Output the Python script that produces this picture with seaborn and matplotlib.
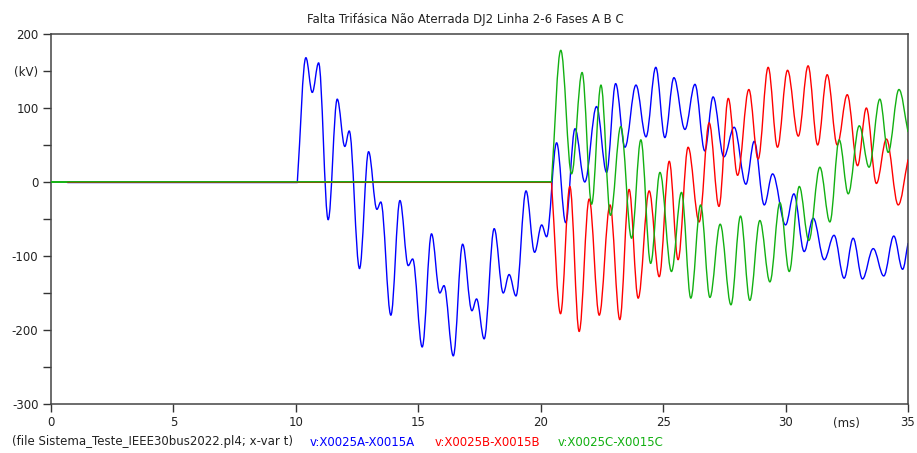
"""
ATP transient plot: three-phase ungrounded fault, DJ2 line 2-6, phases A B C.
"""
import matplotlib
matplotlib.use("Agg")
import matplotlib.pyplot as plt
from matplotlib.path import Path
from matplotlib.patches import PathPatch
import seaborn as sns
import pandas as pd

# time (ms) / voltage (kV): fault onset, peaks, troughs, end
t_a = [0.67, 10.06, 10.41, 10.67, 10.93, 11.32, 11.69, 12.0, 12.18, 12.6, 12.97,
       13.31, 13.47, 13.88, 14.25, 14.59, 14.77, 15.16, 15.54, 15.88, 16.05, 16.43,
       16.81, 17.19, 17.38, 17.69, 18.1, 18.47, 18.71, 18.99, 19.4, 19.75, 20.04,
       20.24, 20.65, 21.02, 21.4, 21.8, 22.28, 22.69, 23.06, 23.44, 23.89, 24.3,
       24.7, 25.07, 25.44, 25.89, 26.3, 26.7, 27.04, 27.48, 27.9, 28.38, 28.72,
       29.13, 29.47, 30.0, 30.34, 30.76, 31.13, 31.58, 31.98, 32.39, 32.76, 33.14,
       33.58, 34.01, 34.42, 34.78, 35.0]
v_a = [0, 0, 168, 121, 161, -51, 112, 48, 69, -117, 41,
       -37, -27, -180, -25, -113, -104, -223, -70, -150, -140, -235,
       -84, -174, -158, -212, -63, -150, -125, -154, -12, -95, -58,
       -74, 53, -55, 72, 0, 102, 13, 133, 47, 131, 61,
       155, 60, 141, 71, 132, 42, 115, 34, 74, -3, 55,
       -31, 11, -58, -16, -94, -49, -105, -72, -130, -76, -131,
       -90, -127, -73, -118, -83]

t_b = [0.67, 20.44, 20.81, 21.19, 21.57, 21.98, 22.39, 22.83, 23.23, 23.61,
       23.98, 24.43, 24.84, 25.25, 25.61, 26.02, 26.47, 26.88, 27.28, 27.66,
       28.04, 28.5, 28.88, 29.29, 29.67, 30.08, 30.52, 30.92, 31.31, 31.7,
       32.11, 32.52, 32.94, 33.3, 33.71, 34.12, 34.6, 35.0]
v_b = [0, 0, -178, -6, -202, -23, -180, -31, -186, -10,
       -157, -12, -128, 28, -105, 47, -54, 80, -33, 113,
       9, 125, 31, 155, 47, 151, 62, 157, 50, 145,
       50, 118, 22, 100, -2, 58, -31, 30]

t_c = [0.0, 20.44, 20.82, 21.26, 21.69, 22.08, 22.46, 22.85, 23.27, 23.71,
       24.09, 24.49, 24.87, 25.34, 25.75, 26.13, 26.53, 26.91, 27.33, 27.77,
       28.16, 28.54, 28.95, 29.36, 29.77, 30.15, 30.56, 30.95, 31.4, 31.81,
       32.19, 32.56, 33.01, 33.41, 33.85, 34.19, 34.63, 35.0]
v_c = [0, 0, 178, 11, 148, -30, 131, -45, 75, -76,
       57, -110, 13, -121, -14, -157, -31, -156, -57, -166,
       -46, -160, -52, -135, -28, -121, -6, -79, 20, -54,
       57, -16, 76, 20, 112, 40, 125, 68]

x_ticks = [0, 5, 10, 15, 20, 25, 30, 35]
y_ticks = [-300, -250, -200, -150, -100, -50, 0, 50, 100, 150, 200]
y_labels = ["-300", "", "-200", "", "-100", "", "0", "", "100", "(kV)", "200"]

title = "Falta Trifásica Não Aterrada DJ2 Linha 2-6 Fases A B C"
file_note = "(file Sistema_Teste_IEEE30bus2022.pl4; x-var t)"
names = ["v:X0025A-X0015A", "v:X0025B-X0015B", "v:X0025C-X0015C"]
colors = ["#0000ff", "#ff0000", "#12b012"]

FS = 8.5


def side_slopes(t, v, i):
    """Incoming / outgoing slope at point i (zero at peaks and troughs)."""
    n = len(t)
    if i == 0:
        return 0.0, (v[1] - v[0]) / (t[1] - t[0])
    if i == n - 1:
        s = (v[i] - v[i - 1]) / (t[i] - t[i - 1])
        return s, s
    d1 = v[i] - v[i - 1]
    d2 = v[i + 1] - v[i]
    if d1 * d2 < 0:
        return 0.0, 0.0
    if d1 == 0:
        return 0.0, d2 / (t[i + 1] - t[i])
    if d2 == 0:
        return d1 / (t[i] - t[i - 1]), 0.0
    s = (v[i + 1] - v[i - 1]) / (t[i + 1] - t[i - 1])
    return s, s


def wave_path(t, v, k=0.36):
    """Smooth cubic path through the read extrema (drawn in data coords)."""
    slopes = [side_slopes(t, v, i) for i in range(len(t))]
    verts = [(t[0], v[0])]
    codes = [Path.MOVETO]
    for i in range(len(t) - 1):
        dt = t[i + 1] - t[i]
        s_out = slopes[i][1]
        s_in = slopes[i + 1][0]
        verts += [(t[i] + k * dt, v[i] + k * dt * s_out),
                  (t[i + 1] - k * dt, v[i + 1] - k * dt * s_in),
                  (t[i + 1], v[i + 1])]
        codes += [Path.CURVE4] * 3
    return Path(verts, codes)


sns.set_theme(style="ticks")
plt.rcParams["font.family"] = ["DejaVu Sans"]
plt.rcParams["font.size"] = FS

fig = plt.figure(figsize=(9.17, 4.53), dpi=100)
ax = fig.add_axes([51 / 917, 49 / 453, 857 / 917, 370 / 453])

# pre-fault zero lines
flat = pd.DataFrame({
    "t": [t_c[0], t_c[1], t_a[0], t_a[1], t_b[0], t_b[1]],
    "v": [v_c[0], v_c[1], v_a[0], v_a[1], v_b[0], v_b[1]],
    "phase": ["C", "C", "A", "A", "B", "B"],
})
sns.lineplot(data=flat[flat.phase == "A"], x="t", y="v", color=colors[0],
             lw=1.0, ax=ax, zorder=2)
sns.lineplot(data=flat[flat.phase == "C"], x="t", y="v", color=colors[2],
             lw=1.4, ax=ax, zorder=3)
sns.lineplot(data=flat[flat.phase == "B"], x="t", y="v", color="#b03000",
             lw=0.8, alpha=0.6, ax=ax, zorder=4)

for (t, v), c, z in zip([(t_a[1:], v_a[1:]), (t_b[1:], v_b[1:]), (t_c[1:], v_c[1:])],
                        colors, [2, 3, 4]):
    ax.add_patch(PathPatch(wave_path(t, v), fill=False, edgecolor=c, lw=1.0,
                           zorder=z, capstyle="round", joinstyle="round"))

ax.set_xlim(0, 35)
ax.set_ylim(-300, 200)
ax.set_xticks(x_ticks)
ax.set_xticklabels([str(x) for x in x_ticks])
ax.set_yticks(y_ticks)
ax.set_yticklabels(y_labels)
ax.set_xlabel("")
ax.set_ylabel("")
ax.tick_params(direction="out", length=6, width=1.0, colors="#333333",
               labelcolor="#222222", pad=3, labelsize=FS)
ax.grid(False)
for side in ["left", "bottom", "top", "right"]:
    ax.spines[side].set_visible(True)
    ax.spines[side].set_color("#444444")
    ax.spines[side].set_linewidth(1.1)

ax.annotate("(ms)", xy=(32.5, 0), xycoords=("data", "axes fraction"),
            xytext=(0, -9), textcoords="offset points", ha="center", va="top",
            fontsize=FS, color="#222222")

fig.text(465 / 917, 1 - 20 / 453, title, ha="center", va="center",
         fontsize=FS, color="#222222")

y_leg = 1 - 442 / 453
fig.text(12 / 917, y_leg, file_note, ha="left", va="center", fontsize=FS,
         color="#222222")
for name, c, x0 in zip(names, colors, [310, 435, 558]):
    fig.text(x0 / 917, y_leg, name, ha="left", va="center", fontsize=FS,
             color=c)

fig.savefig("out.png", dpi=100)
